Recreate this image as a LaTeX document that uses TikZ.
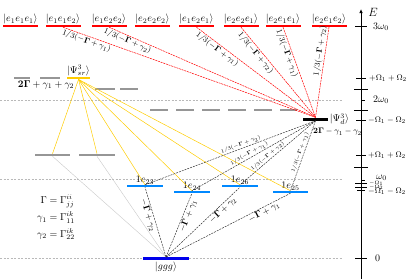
\documentclass[tikz,border=0pt]{standalone}
\usepackage{amsmath}
\usepackage{tikz}
\usetikzlibrary{arrows.meta, positioning}
\definecolor{lvlred}{RGB}{255,0,0}
\definecolor{lvlgold}{RGB}{255,204,0}
\definecolor{lvlgray}{RGB}{150,150,150}
\definecolor{lvlblue}{RGB}{0,136,255}
\definecolor{lvlnavy}{RGB}{0,0,235}
\definecolor{guidegray}{RGB}{185,185,185}
\definecolor{fadegray}{RGB}{200,200,200}

\begin{document}
\begin{tikzpicture}[
    x=1pt, y=-1pt,
    lvl/.style={rectangle, inner sep=0pt, minimum height=2pt},
    redlevel/.style={lvl, fill=lvlred, minimum width=35pt},
    graylevel/.style={lvl, fill=lvlgray, minimum height=2.2pt},
    goldlevel/.style={lvl, fill=lvlgold, minimum height=2.5pt},
    bluelevel/.style={lvl, fill=lvlblue, minimum width=36pt},
    darklevel/.style={lvl, fill=black, minimum height=3pt},
    statelabel/.style={inner sep=0.5pt},
    redline/.style={draw=lvlred, line width=0.5pt, dash pattern=on 2pt off 0.8pt},
    goldline/.style={draw=lvlgold, line width=0.5pt},
    darkline/.style={draw=black!85, line width=0.45pt, dash pattern=on 2pt off 1pt},
    fadeline/.style={draw=fadegray, line width=0.4pt},
    guide/.style={draw=guidegray, line width=0.4pt, dash pattern=on 2pt off 1.5pt},
    graydash/.style={draw=lvlgray, line width=2.2pt, dash pattern=on 18pt off 8pt},
    redrate/.style={sloped, font=\footnotesize, inner sep=1pt},
    darkrate/.style={sloped, font=\tiny, inner sep=1pt},
    groundrate/.style={sloped, font=\small, inner sep=1pt},
    axisline/.style={draw=black, line width=0.9pt},
    axistick/.style={draw=black, line width=0.6pt},
    ticklabel/.style={anchor=west, inner sep=0pt}
]
\useasboundingbox (0,0) rectangle (411,279);

% energy guides
\draw[guide] (0,100) -- (343,100);
\draw[guide] (0,179) -- (343,179);
\draw[guide] (0,258) -- (343,258);

% three excitations
\node[redlevel] (e111) at (20.5,26) {};
\node[redlevel] (e112) at (63,26) {};
\node[redlevel] (e122) at (109,26) {};
\node[redlevel] (e222) at (152.5,26) {};
\node[redlevel] (e121) at (196.5,26) {};
\node[redlevel] (e221) at (241,26) {};
\node[redlevel] (e211) at (283,26) {};
\node[redlevel] (e212) at (329,26) {};

\node[statelabel, above=0pt of e111] (e111l) {$|e_1e_1e_1\rangle$};
\node[statelabel, above=0pt of e112] (e112l) {$|e_1e_1e_2\rangle$};
\node[statelabel, above=0pt of e122] (e122l) {$|e_1e_2e_2\rangle$};
\node[statelabel, above=0pt of e222] (e222l) {$|e_2e_2e_2\rangle$};
\node[statelabel, above=0pt of e121] (e121l) {$|e_1e_2e_1\rangle$};
\node[statelabel, above=0pt of e221] (e221l) {$|e_2e_2e_1\rangle$};
\node[statelabel, above=0pt of e211] (e211l) {$|e_2e_1e_1\rangle$};
\node[statelabel, above=0pt of e212] (e212l) {$|e_2e_1e_2\rangle$};

% two excitations
\node[graylevel, minimum width=16pt] (sa) at (22,78) {};
\node[graylevel, minimum width=20pt] (sb) at (50,78) {};
\node[goldlevel, minimum width=23pt] (psr) at (78.5,78) {};
\node[graylevel, minimum width=20pt] (sc) at (105,89) {};
\node[graylevel, minimum width=18pt] (sd) at (129,89) {};
\draw[graydash] (150,110) -- (297,110);
\node[darklevel, minimum width=25pt] (psid) at (315.5,119) {};

\node[statelabel, above=0pt of psr] (psrl) {$|\Psi^3_{sr}\rangle$};
\node (psrrate) at (46,85) {$\mathbf{2\Gamma}+\gamma_1+\gamma_2$};
\node[statelabel, right=1pt of psid] (psidl) {$|\Psi^3_{d}\rangle$};
\node[font=\footnotesize, anchor=west, inner sep=0pt] (psidrate) at (313,132) {$\mathbf{2\Gamma}-\gamma_1-\gamma_2$};

% one excitation
\node[graylevel, minimum width=35pt] (ga) at (52.5,155) {};
\node[graylevel, minimum width=36pt] (gb) at (97,155) {};
\node[bluelevel] (b23) at (145,186) {};
\node[bluelevel] (b24) at (192,192) {};
\node[bluelevel] (b26) at (240,186) {};
\node[bluelevel, minimum width=35pt] (b25) at (290.5,192) {};

\node[statelabel, above=0pt of b23] (b23l) {$1e_{23}$};
\node[statelabel, above=0pt of b24] (b24l) {$1e_{24}$};
\node[statelabel, above=0pt of b26] (b26l) {$1e_{26}$};
\node[statelabel, above=0pt of b25] (b25l) {$1e_{25}$};

% ground
\node[lvl, fill=lvlnavy, minimum width=46pt, minimum height=2.5pt] (ggg) at (166,258.5) {};
\node[statelabel, below=1pt of ggg] (gggl) {$|ggg\rangle$};

% decay channels
\draw[redline] (e112.south) -- node[redrate, pos=0.1, below] {$1/3(-\mathbf{\Gamma}+\gamma_1)$} (psid.north);
\draw[redline] (e122.south) -- node[redrate, pos=0.1, below] {$1/3(-\mathbf{\Gamma}+\gamma_2)$} (psid.north);
\draw[redline] (e121.south) -- node[redrate, pos=0.2, below] {$1/3(-\mathbf{\Gamma}+\gamma_1)$} (psid.north);
\draw[redline] (e221.south) -- node[redrate, pos=0.25, below] {$1/3(-\mathbf{\Gamma}+\gamma_2)$} (psid.north);
\draw[redline] (e211.south) -- node[redrate, pos=0.27, below] {$1/3(-\mathbf{\Gamma}+\gamma_1)$} (psid.north);
\draw[redline] (e212.south) -- node[redrate, pos=0.27, above] {$1/3(-\mathbf{\Gamma}+\gamma_2)$} (psid.north);

\draw[goldline] (psr.south) -- (ga.north);
\draw[goldline] (psr.south) -- (gb.north);
\draw[goldline] (psr.south) -- (b23.north);
\draw[goldline] (psr.south) -- (b24.north);
\draw[goldline] (psr.south) -- (b26.north);
\draw[goldline] (psr.south) -- (b25.north);

\draw[darkline] (psid.south) -- node[darkrate, pos=0.43, above] {$1/3(-\mathbf{\Gamma}+\gamma_2)$} (b23.north);
\draw[darkline] (psid.south) -- node[darkrate, pos=0.52, above] {$1/3(-\mathbf{\Gamma}+\gamma_1)$} (b24.north);
\draw[darkline] (psid.south) -- node[darkrate, pos=0.6, above] {$1/3(-\mathbf{\Gamma}+\gamma_2)$} (b26.north);
\draw[darkline] (psid.south) -- node[darkrate, pos=0.47, above] {$1/3(-\mathbf{\Gamma}+\gamma_1)$} (b25.north);

\draw[fadeline] (ga.south) -- (ggg.north);
\draw[fadeline] (gb.south) -- (ggg.north);

\draw[darkline] (ggg.north) -- node[groundrate, pos=0.62, below] {$-\mathbf{\Gamma}+\gamma_2$} (b23.south);
\draw[darkline] (ggg.north) -- node[groundrate, pos=0.67, below] {$-\mathbf{\Gamma}+\gamma_1$} (b24.south);
\draw[darkline] (ggg.north) -- node[groundrate, pos=0.72, below] {$-\mathbf{\Gamma}+\gamma_2$} (b26.south);
\draw[darkline] (ggg.north) -- node[groundrate, pos=0.77, below] {$-\mathbf{\Gamma}+\gamma_1$} (b25.south);

% rates
\node (rates) at (56,218) {$\begin{aligned}\Gamma &= \Gamma^{ii}_{jj}\\ \gamma_1 &= \Gamma^{ik}_{11}\\ \gamma_2 &= \Gamma^{ik}_{22}\end{aligned}$};

% energy axis
\draw[axisline, -{Latex[length=4pt, width=3.5pt]}] (361,279) -- (361,9);
\node (energy) at (373,12) {\large$E$};
\draw[axistick] (355,26) -- (367,26);
\draw[axistick] (356,78) -- (366,78);
\draw[axistick] (354,89) -- (368,89);
\draw[axistick] (362,100) -- (365,100);
\draw[axistick] (354,110) -- (368,110);
\draw[axistick] (356,120) -- (366,120);
\draw[axistick] (356,155) -- (366,155);
\draw[axistick] (354,167) -- (368,167);
\draw[axistick] (362,180) -- (365,180);
\draw[axistick] (355,183) -- (367,183);
\draw[axistick] (355,187) -- (367,187);
\draw[axistick] (357,190) -- (365,190);
\draw[axistick] (355,258) -- (367,258);

\node[ticklabel] (t3w) at (373,27) {$3\omega_0$};
\node[ticklabel, font=\footnotesize] (tp2) at (369,78) {$+\Omega_1+\Omega_2$};
\node[ticklabel] (t2w) at (373,100) {$2\omega_0$};
\node[ticklabel, font=\footnotesize] (tm2) at (368,120) {$-\Omega_1-\Omega_2$};
\node[ticklabel, font=\footnotesize] (tp1) at (368,155) {$+\Omega_1+\Omega_2$};
\node[ticklabel] (t1w) at (376,178) {$\omega_0$};
\node[ticklabel, font=\tiny] (tma) at (369,183.5) {$-\Omega_1$};
\node[ticklabel, font=\tiny] (tmb) at (369,187.5) {$-\Omega_2$};
\node[ticklabel, font=\footnotesize] (tm1) at (368,191) {$-\Omega_1-\Omega_2$};
\node[ticklabel] (t0) at (375,258) {$0$};

\end{tikzpicture}
\end{document}
